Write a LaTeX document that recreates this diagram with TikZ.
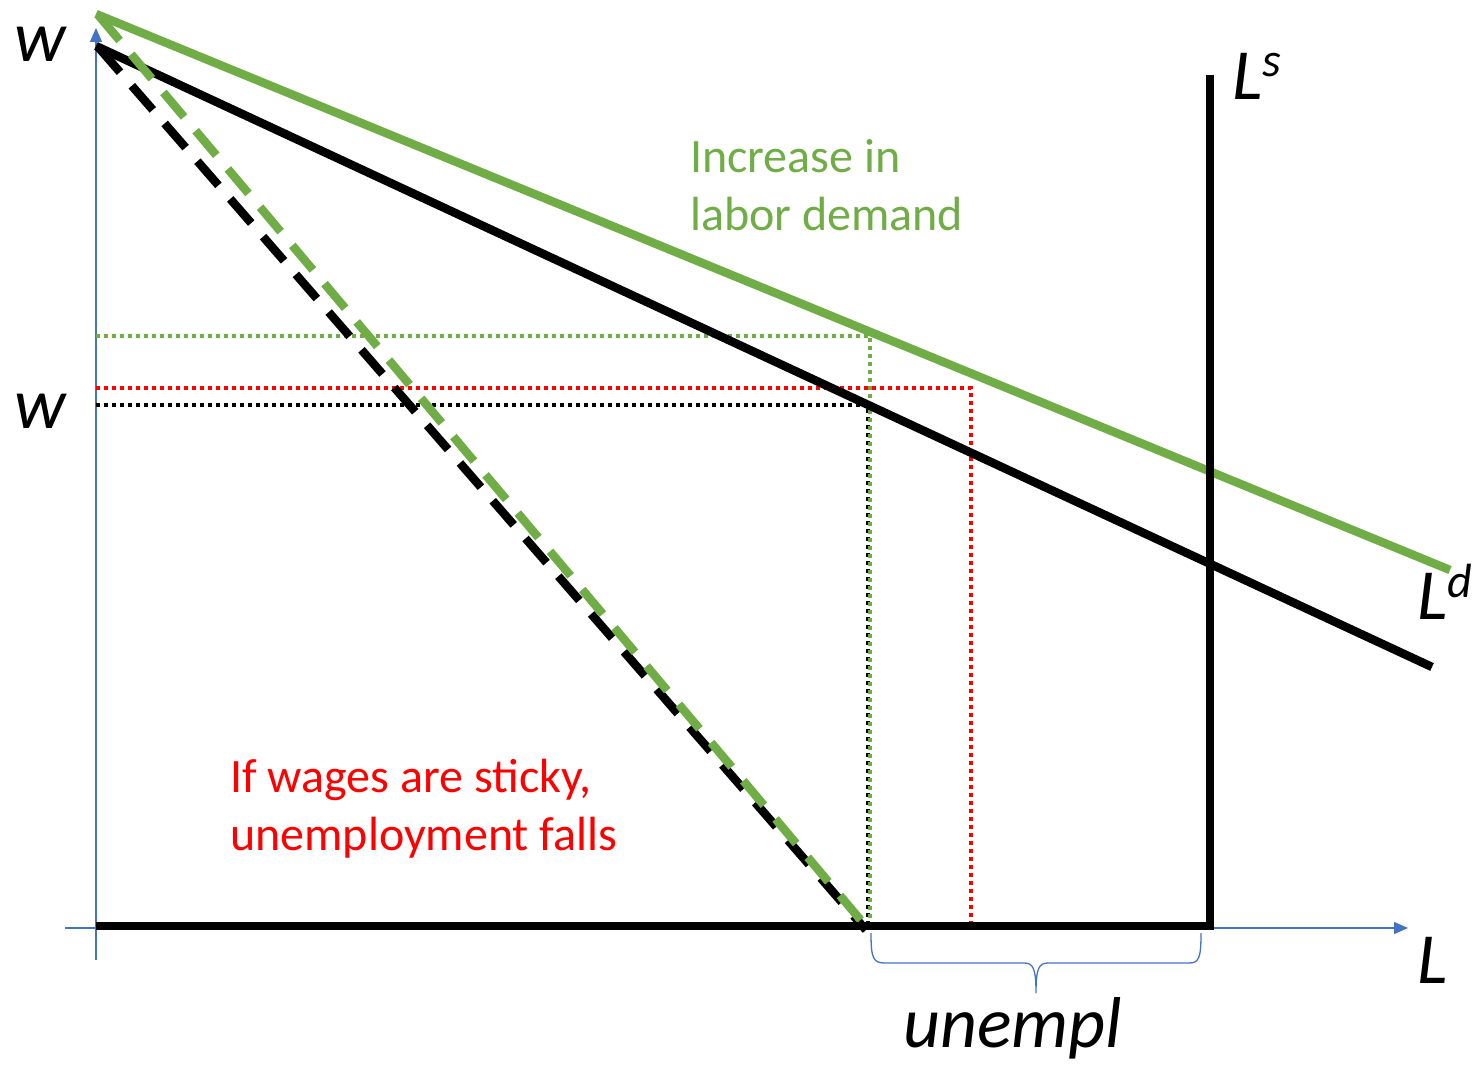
\documentclass[tikz,border=0pt]{standalone}
\usepackage{fontspec}
\setmainfont{Carlito}
\usetikzlibrary{arrows.meta}
\definecolor{xgreen}{HTML}{70AD47}
\definecolor{xblue}{HTML}{4472C4}
\definecolor{xred}{RGB}{255,0,0}
\tikzset{
  axis/.style={draw=xblue, line width=1.3pt, -{Triangle[length=14pt,width=12pt]}},
  curve/.style={line width=8.5pt},
  dashcurve/.style={line width=8.5pt, dash pattern=on 32pt off 18pt},
  dotline/.style={line width=3.5pt, dash pattern=on 3.5pt off 4.5pt},
  txt/.style={font=\fontsize{48}{58}\selectfont, anchor=base west, inner sep=0pt},
  mlab/.style={font=\fontsize{72}{86}\selectfont\itshape, anchor=base west, inner sep=0pt},
}
\newcommand{\supx}[1]{\raisebox{22pt}{\fontsize{48}{58}\selectfont #1}}
\begin{document}
\begin{tikzpicture}[x=1pt,y=-1pt]
\useasboundingbox[fill=white] (0,0) rectangle (1474,1065);
% coordinates
\coordinate (ytop) at (96,28);
\coordinate (ybot) at (96,960);
\coordinate (xl) at (65,928);
\coordinate (xr) at (1408,928);
\coordinate (bd1) at (96,46);
\coordinate (bd2) at (1432,667);
\coordinate (gd1) at (96,14);
\coordinate (gd2) at (1450,570);
\coordinate (bk1) at (99,48);
\coordinate (bk2) at (866,930);
\coordinate (gk1) at (99,16);
\coordinate (gk2) at (869,930);
\coordinate (ls1) at (1210,75);
\coordinate (ls2) at (1210,929);
\coordinate (bl1) at (96,926);
\coordinate (bl2) at (1214,926);
\coordinate (gw) at (96,336);
\coordinate (gc) at (870,336);
\coordinate (gb) at (870,928);
\coordinate (rw) at (96,388);
\coordinate (rc) at (971,388);
\coordinate (rb) at (971,928);
\coordinate (kw) at (96,405);
\coordinate (kc) at (868,405);
\coordinate (kb) at (868,928);
% axes
\draw[axis] (ybot) -- (ytop);
\draw[axis] (xl) -- (xr);
% dotted guides
\draw[dotline, xred] (rw) -- (rc) -- (rb);
\draw[dotline, black] (kw) -- (kc) -- (kb);
\draw[dotline, xgreen] (gw) -- (gc) -- (gb);
% demand curves
\draw[curve, black] (bd1) -- (bd2);
\draw[curve, xgreen] (gd1) -- (gd2);
% dashed
\draw[dashcurve, black] (bk1) -- (bk2);
\draw[dashcurve, xgreen] (gk1) -- (gk2);
% bottom and supply
\draw[curve, black] (bl1) -- (bl2);
\draw[curve, black] (ls1) -- (ls2);
% brace
\draw[xblue, line width=1.3pt] (871,933) .. controls (871,958) and (873,963) .. (885,963) -- (1024,963) .. controls (1033,963) and (1036,968) .. (1036,993)
  .. controls (1036,968) and (1039,963) .. (1048,963) -- (1189,963) .. controls (1199,963) and (1201,958) .. (1201,933);
% labels
\node[mlab] (w1) at (14,62) {w};
\node[mlab] (w2) at (14,428) {w};
\node[mlab] (Ls) at (1232,99) {L\supx{s}};
\node[mlab] (Ld) at (1417,619) {L\supx{d}};
\node[mlab] (L) at (1417,983) {L};
\node[mlab] (un) at (903,1047) {unempl};
\node[txt, text=xgreen] (inc1) at (690,172) {Increase in};
\node[txt, text=xgreen] (inc2) at (690,230) {labor demand};
\node[txt, text=xred] (st1) at (230,792) {If wages are sticky,};
\node[txt, text=xred] (st2) at (230,850) {unemployment falls};
\end{tikzpicture}
\end{document}
